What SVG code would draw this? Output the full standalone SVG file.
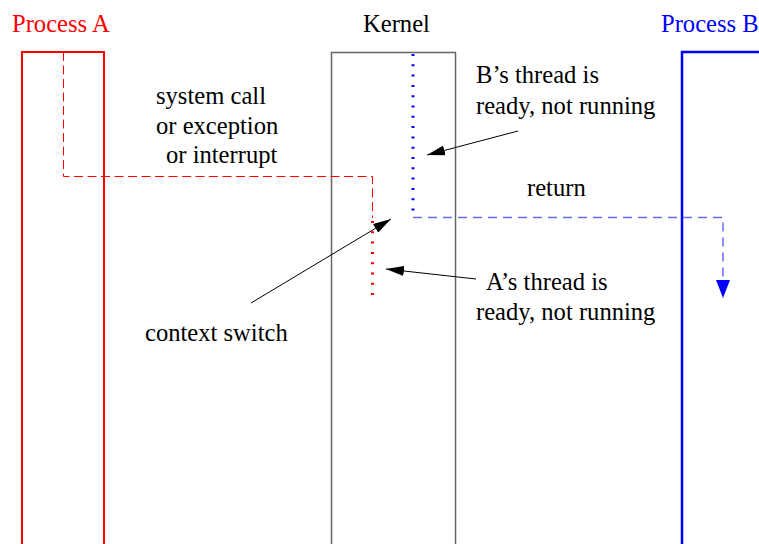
<svg xmlns="http://www.w3.org/2000/svg" width="759" height="544" viewBox="0 0 759 544">
  <style>
    text { font-family: "Liberation Serif", "Times New Roman", serif; font-size: 24.6px; fill: #000; }
    .red { fill: #ff0000; }
    .blue { fill: #0000ff; }
    .lbl { stroke: #000; stroke-width: 1; fill: none; }
  </style>
  <defs>
    <marker id="ah" viewBox="0 0 18 10" refX="18" refY="5" markerWidth="18" markerHeight="10" markerUnits="userSpaceOnUse" orient="auto">
      <path d="M0,0 L18,5 L0,10 Z" fill="#000"/>
    </marker>
    <marker id="ahb" viewBox="0 0 18 14" refX="18" refY="7" markerWidth="18" markerHeight="14" markerUnits="userSpaceOnUse" orient="auto">
      <path d="M0,0 L18,7 L0,14 Z" fill="#0000ff"/>
    </marker>
  </defs>
  <rect width="759" height="544" fill="#fff"/>

  <g id="processA">
    <text class="red" x="12" y="32">Process A</text>
    <path d="M22,544 V52 H104 V544" fill="none" stroke="#ff0000" stroke-width="2"/>
  </g>

  <g id="kernel">
    <text x="363" y="32">Kernel</text>
    <path d="M331.5,544 V52.5 H455.5 V544" fill="none" stroke="#666666" stroke-width="1.5"/>
  </g>

  <g id="processB">
    <text class="blue" x="661" y="32">Process B</text>
    <path d="M682,544 V52 H760" fill="none" stroke="#0000ff" stroke-width="2.5"/>
  </g>

  <g id="connectors">
    <!-- thread A: runs in process A, traps into kernel, then waits -->
    <path d="M63.5,52 V176.5 H372.5 V218" fill="none" stroke="#ff0000" stroke-width="1" stroke-dasharray="9 4.5"/>
    <path d="M372.5,221 V296" fill="none" stroke="#ff0000" stroke-width="3" stroke-dasharray="2 8.3"/>
    <!-- thread B: waits in kernel, then returns to process B -->
    <path d="M413,54 V214" fill="none" stroke="#0000ff" stroke-width="3" stroke-dasharray="2 8.3"/>
    <path d="M413,217.5 H723 V298" fill="none" stroke="#6a6aff" stroke-width="1.5" stroke-dasharray="9 6" marker-end="url(#ahb)"/>
    <!-- label pointers -->
    <line class="lbl" x1="518" y1="131" x2="427" y2="155" marker-end="url(#ah)"/>
    <line class="lbl" x1="251" y1="303" x2="391" y2="219" marker-end="url(#ah)"/>
    <line class="lbl" x1="476" y1="279" x2="386" y2="269" marker-end="url(#ah)"/>
  </g>

  <g id="labels">
    <text x="156" y="104">system call</text>
    <text x="156" y="134">or exception</text>
    <text x="166" y="163">or interrupt</text>
    <text x="476" y="83">B’s thread is</text>
    <text x="476" y="114">ready, not running</text>
    <text x="527" y="196">return</text>
    <text x="486" y="290">A’s thread is</text>
    <text x="476" y="320">ready, not running</text>
    <text x="145" y="341">context switch</text>
  </g>
</svg>
